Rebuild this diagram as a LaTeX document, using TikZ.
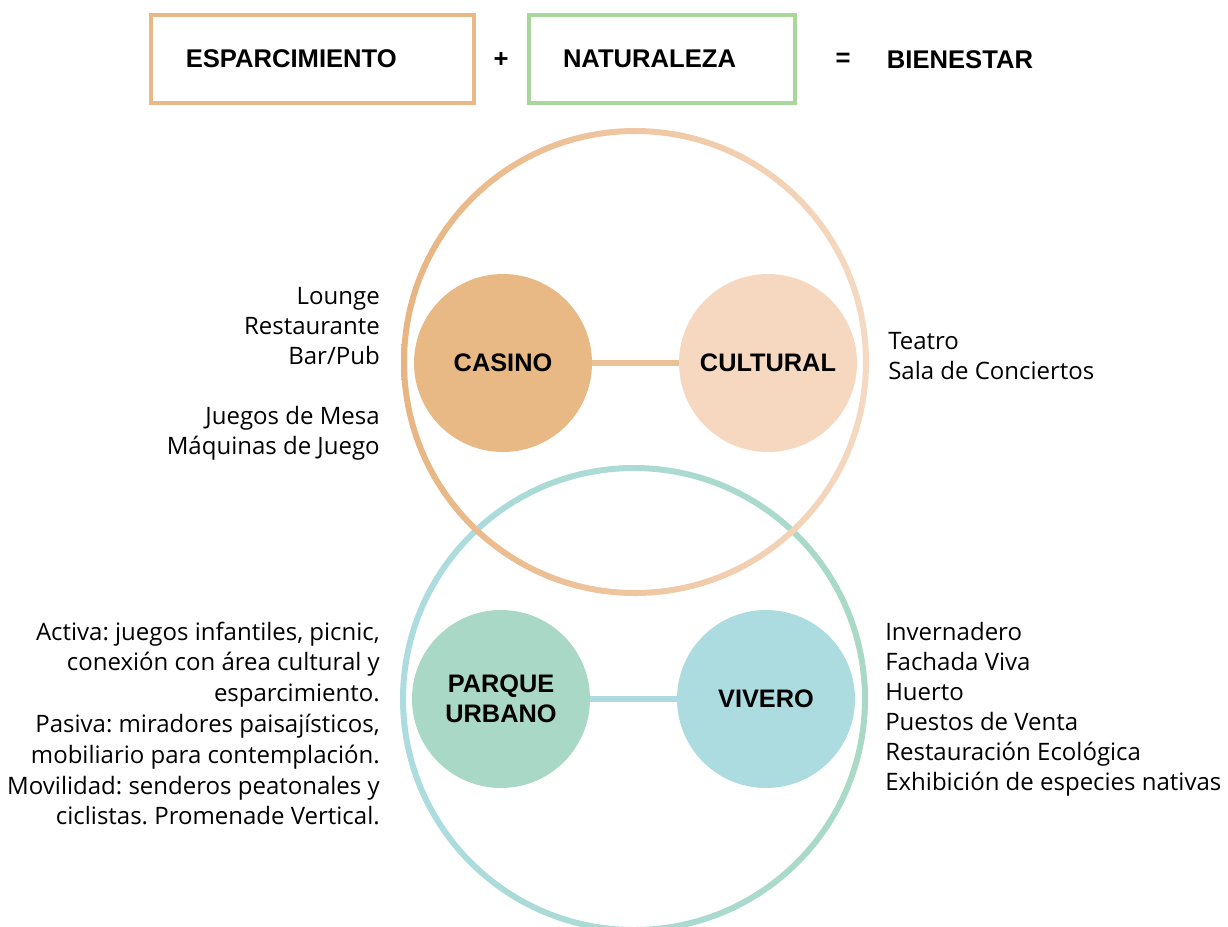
\documentclass[tikz,border=0pt]{standalone}
\usepackage{fontspec}
\setmainfont{Open Sans}
\newfontfamily\hv{Liberation Sans}
\usetikzlibrary{positioning}
\definecolor{esp}{HTML}{E8B886}
\definecolor{nat}{HTML}{A9D69B}
\definecolor{cas}{HTML}{E8B985}
\definecolor{cul}{HTML}{F6D8C1}
\definecolor{par}{HTML}{A9D9C6}
\definecolor{viv}{HTML}{ACDCDF}
\definecolor{ringa}{HTML}{E8B582}
\definecolor{ringb}{HTML}{F5D9C2}
\frenchspacing
\tikzset{
    hdr/.style={font=\hv\bfseries\fontsize{19.2}{22}\selectfont},
    hbox/.style={hdr, draw, line width=2.6pt, minimum height=66pt, align=left},
    zone/.style={circle, minimum size=133.5pt, inner sep=0pt, align=center,
        font=\hv\bfseries\fontsize{19}{22.5}\selectfont},
    lst/.style={inner sep=0pt, font=\fontsize{18}{22.5}\selectfont},
    link/.style={line width=5pt}
}

\begin{document}
\begin{tikzpicture}[x=0.75pt, y=-0.75pt]
    \useasboundingbox (0,0) rectangle (1228,926);
    \clip (0,0) rectangle (1228,926);

    \node[hbox, draw=esp, inner xsep=26pt, text width=190pt] (esp) at (312.5,59) {ESPARCIMIENTO};
    \node[hdr] (plus) at (501,60) {+};
    \node[hbox, draw=nat, inner xsep=25.5pt, text width=148.5pt] (nat) at (662,59) {NATURALEZA};
    \node[hdr] (eq) at (843,60) {=};
    \node[hdr] (bien) at (960,60) {BIENESTAR};

    \coordinate (up) at (635,362);
    \coordinate (dn) at (634,699);
    \path[even odd rule, left color=viv, right color=par]
        (dn) circle[radius=175.5pt] (dn) circle[radius=171pt];
    \path[even odd rule, left color=ringa, right color=ringb]
        (up) circle[radius=175.5pt] (up) circle[radius=171pt];

    \node[zone, fill=cas] (casino) at (503,363) {CASINO};
    \node[zone, fill=cul] (cult) at (768,363) {CULTURAL};
    \draw[link, draw=ringa!70!ringb] (casino) -- (cult);

    \node[zone, fill=par] (parque) at (501,699) {PARQUE\\URBANO};
    \node[zone, fill=viv] (vivero) at (766,699) {VIVERO};
    \draw[link, draw=viv] (parque) -- (vivero);

    \node[lst, anchor=east, align=right] (ocio) at (380,373.5)
        {Lounge\\Restaurante\\Bar/Pub\\\mbox{}\\Juegos de Mesa\\Máquinas de Juego};
    \node[lst, anchor=west, align=left] (arte) at (888,356)
        {Teatro\\Sala de Conciertos};
    \node[lst, anchor=east, align=right, font=\fontsize{18}{23.1}\selectfont] (usos) at (380,723.5)
        {Activa: juegos infantiles, picnic,\\conexión con área cultural y\\esparcimiento.\\
         Pasiva: miradores paisajísticos,\\mobiliario para contemplación.\\
         Movilidad: senderos peatonales y\\ciclistas. Promenade Vertical.};
    \node[lst, anchor=west, align=left] (prog) at (885,709)
        {Invernadero\\Fachada Viva\\Huerto\\Puestos de Venta\\Restauración Ecológica\\Exhibición de especies nativas};
\end{tikzpicture}
\end{document}
